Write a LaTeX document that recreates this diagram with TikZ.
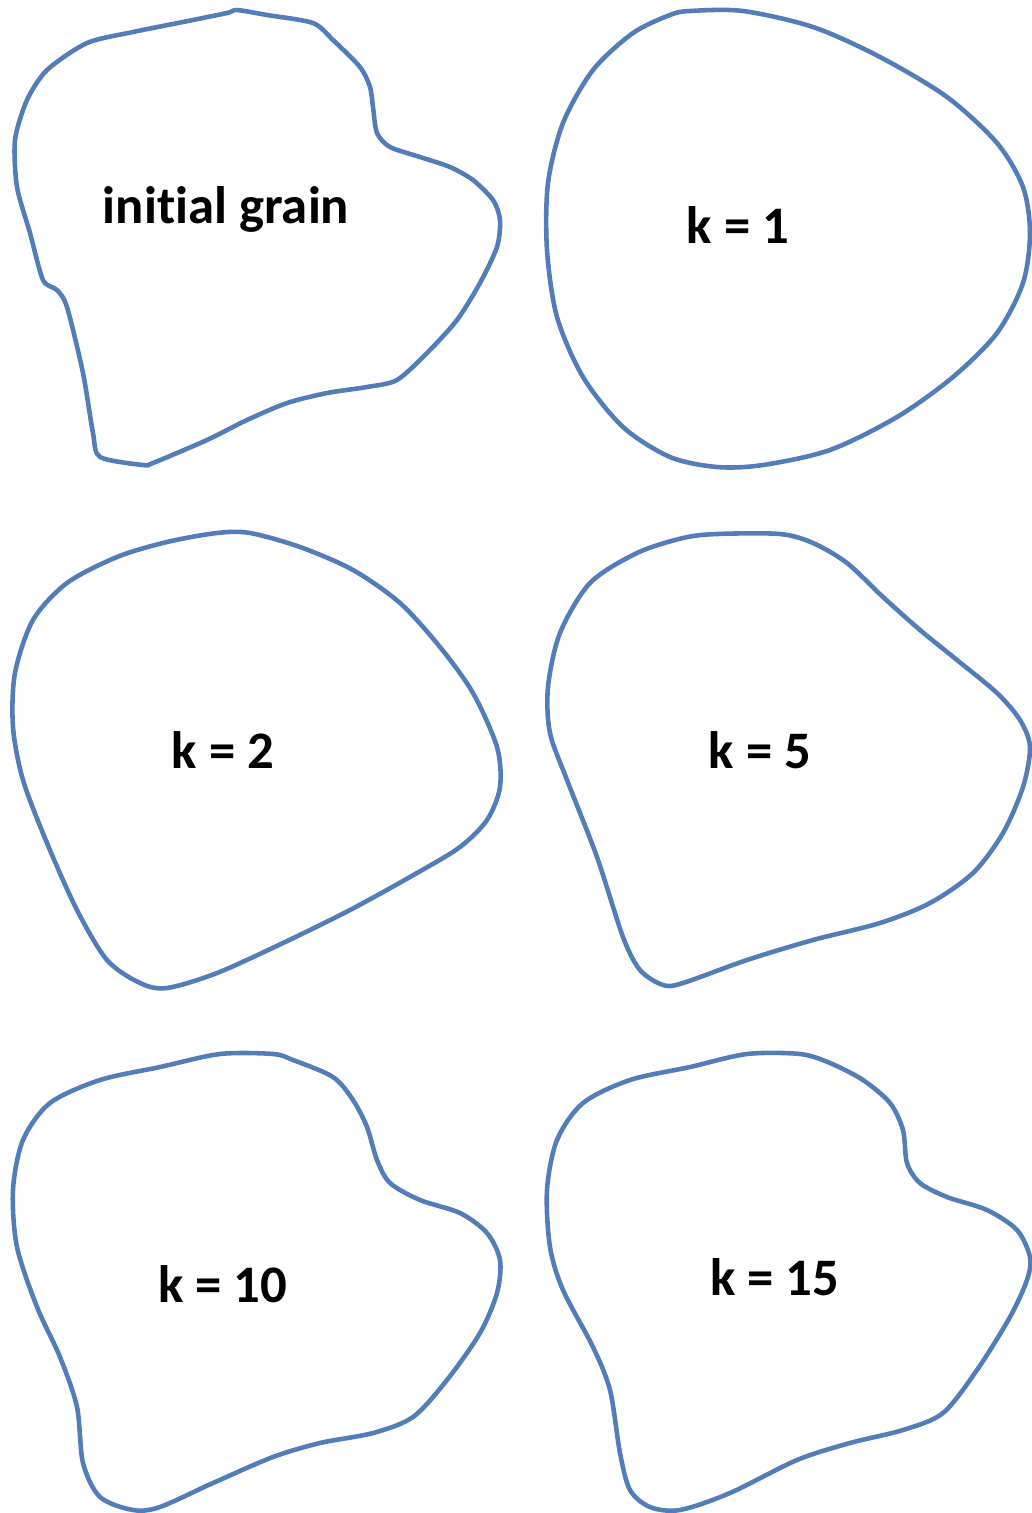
\documentclass[tikz,border=0pt]{standalone}
\usepackage{fontspec}
\setmainfont{Carlito}[Ligatures=NoCommon]
\definecolor{GrainBlue}{RGB}{82,125,184}
\usepackage{tikz}

\begin{document}
\begin{tikzpicture}[
                x=0.1mm, y=-0.1mm,
                grain/.style={GrainBlue,line width=1.3pt,line join=round},
                lbl/.style={anchor=base,inner sep=0pt,font=\fontsize{15}{18}\selectfont\bfseries}
            ]
                \useasboundingbox (0,0) rectangle (1031,1513);
                % Initial grain (top left)
                \draw[grain] plot[smooth cycle,tension=0.45] coordinates {
                    (237,10) (267,15) (313,23) (333,40) (360,67) (370,87) (373,107) (377,133)
                    (390,147) (420,157) (450,167) (473,180) (493,200) (500,220) (497,247)
                    (480,283) (457,320) (427,353) (397,380) (367,387) (327,393) (287,403)
                    (247,420) (207,440) (153,463) (143,465) (100,457) (93,433) (83,373)
                    (67,307) (57,290) (43,280) (30,233) (17,187) (15,140) (27,100) (47,70)
                    (87,43) (133,32) (183,22) (227,13)};
                \node[lbl] (lab0) at (226,223) {initial grain};
                % k = 1 (top right)
                \draw[grain] plot[smooth cycle] coordinates {
                    (690,11) (743,11) (813,27) (880,57) (947,97) (997,143) (1023,187)
                    (1030,233) (1023,283) (997,333) (953,377) (897,417) (830,450) (763,465)
                    (717,467) (670,457) (623,427) (583,377) (557,317) (547,250) (548,183)
                    (563,123) (593,70) (633,33) (670,15)};
                \node[lbl] (lab1) at (738,243) {k = 1};
                % k = 2 (middle left)
                \draw[grain] plot[smooth cycle] coordinates {
                    (217,533) (250,533) (300,547) (353,570) (400,603) (440,647) (473,693)
                    (497,747) (500,787) (487,820) (460,847) (417,873) (350,910) (283,943)
                    (217,973) (167,988) (140,983) (107,960) (77,910) (47,843) (23,780)
                    (13,727) (15,673) (33,620) (67,583) (117,557) (167,542)};
                \node[lbl] (lab2) at (223,768) {k = 2};
                % k = 5 (middle right)
                \draw[grain] plot[smooth cycle] coordinates {
                    (717,534) (780,534) (813,543) (847,563) (883,597) (920,630) (957,660)
                    (997,693) (1020,720) (1030,747) (1023,787) (1003,833) (973,873) (930,903)
                    (880,923) (813,940) (747,960) (683,983) (663,985) (640,970) (623,937)
                    (597,857) (567,780) (550,733) (548,687) (560,633) (590,583) (637,553)
                    (683,538)};
                \node[lbl] (lab5) at (760,768) {k = 5};
                % k = 10 (bottom left)
                \draw[grain] plot[smooth cycle] coordinates {
                    (220,1054) (273,1054) (293,1060) (333,1077) (353,1100) (367,1127)
                    (377,1160) (390,1183) (420,1200) (460,1213) (487,1233) (500,1260)
                    (497,1293) (480,1333) (447,1380) (413,1417) (373,1433) (320,1443)
                    (273,1457) (213,1483) (160,1507) (133,1510) (100,1497) (83,1463)
                    (77,1407) (60,1357) (37,1307) (17,1247) (13,1190) (23,1140) (50,1103)
                    (100,1080) (160,1067)};
                \node[lbl] (lab10) at (223,1302) {k = 10};
                % k = 15 (bottom right)
                \draw[grain] plot[smooth cycle] coordinates {
                    (747,1054) (800,1054) (830,1063) (863,1080) (890,1103) (903,1130)
                    (907,1163) (920,1183) (947,1197) (987,1210) (1017,1230) (1030,1257)
                    (1027,1280) (1010,1317) (977,1370) (943,1413) (903,1430) (850,1443)
                    (797,1460) (730,1493) (680,1510) (650,1507) (630,1490) (620,1453)
                    (610,1390) (593,1347) (563,1290) (550,1247) (547,1190) (557,1140)
                    (583,1103) (630,1080) (690,1067)};
                \node[lbl] (lab15) at (775,1295) {k = 15};
            \end{tikzpicture}
\end{document}
